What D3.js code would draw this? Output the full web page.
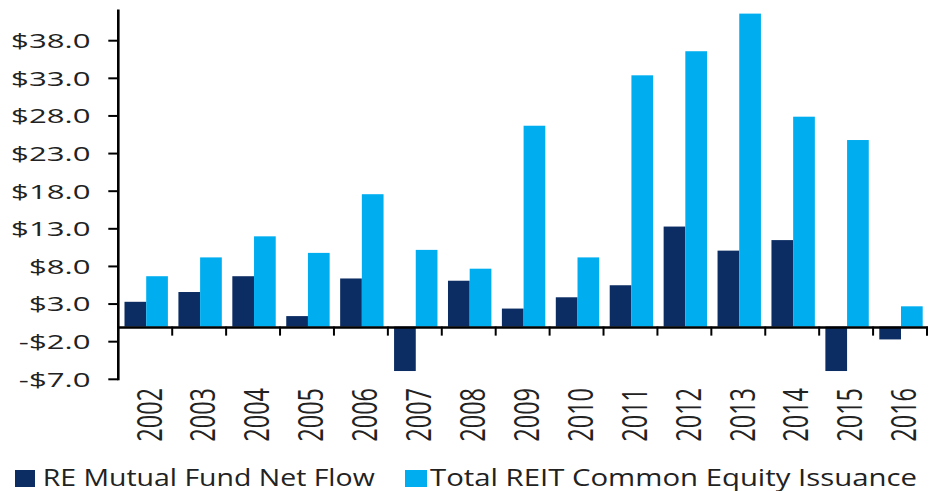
<!DOCTYPE html>
<html>
<head>
<meta charset="utf-8">
<script src="https://cdn.jsdelivr.net/npm/d3@7"></script>
<style>
  html, body { margin: 0; padding: 0; background: #fff; }
  svg { display: block; }
  text { font-family: "Open Sans", "Noto Sans", sans-serif; fill: #222; }
</style>
</head>
<body>
<svg id="chart" width="930" height="491"></svg>
<script>
// ---- data ----
const years = ["2002","2003","2004","2005","2006","2007","2008","2009","2010","2011","2012","2013","2014","2015","2016"];
const seriesNames = ["RE Mutual Fund Net Flow", "Total REIT Common Equity Issuance"];
const mutualFundNetFlow = [3.3, 4.6, 6.7, 1.4, 6.4, -5.9, 6.1, 2.4, 3.9, 5.5, 13.3, 10.1, 11.5, -5.9, -1.7];
const reitEquityIssuance = [6.7, 9.2, 12.0, 9.8, 17.6, 10.2, 7.7, 26.7, 9.2, 33.4, 36.6, 41.6, 27.9, 24.8, 2.7];
const yTickValues = [-7, -2, 3, 8, 13, 18, 23, 28, 33, 38];
const colors = ["#0c2d63", "#00aeef"];

// ---- layout ----
const svg = d3.select("#chart");
const left = 118.3, right = 927, yTopPx = 9.5;
const SX = 1.45; // horizontal stretch of the reference's text

const y = d3.scaleLinear().domain([-7, 38]).range([379.3, 40.7]);
const yMaxAxis = y.invert(yTopPx);

const x0 = d3.scaleBand().domain(years).range([left, right]).padding(0);
const bw = x0.bandwidth();
const x1 = d3.scaleBand().domain(seriesNames).range([bw * 0.115, bw * 0.92]).padding(0);

const rows = years.map((yr, i) => ({ year: yr, values: [mutualFundNetFlow[i], reitEquityIssuance[i]] }));

// bars
const g = svg.append("g");
g.selectAll("g.cat").data(rows).join("g")
  .attr("class", "cat")
  .attr("transform", d => `translate(${x0(d.year)},0)`)
  .selectAll("rect").data(d => d.values.map((v, k) => ({ v, k })))
  .join("rect")
  .attr("x", d => x1(seriesNames[d.k]))
  .attr("width", x1.bandwidth())
  .attr("y", d => y(Math.max(0, d.v)))
  .attr("height", d => Math.abs(y(d.v) - y(0)))
  .attr("fill", d => colors[d.k]);

// y axis line
svg.append("line")
  .attr("x1", left).attr("x2", left)
  .attr("y1", y(yMaxAxis)).attr("y2", y(-7) + 1)
  .attr("stroke", "#000").attr("stroke-width", 2.6);

// y ticks
svg.selectAll("line.ytick").data(yTickValues).join("line")
  .attr("class", "ytick")
  .attr("x1", left - 10).attr("x2", left)
  .attr("y1", d => y(d)).attr("y2", d => y(d))
  .attr("stroke", "#000").attr("stroke-width", 2);

const fmt = v => (v < 0 ? "-$" : "$") + Math.abs(v).toFixed(1);
svg.selectAll("text.ylab").data(yTickValues).join("text")
  .attr("class", "ylab")
  .attr("transform", d => `translate(90.5,${y(d)}) scale(1.52,1)`)
  .attr("text-anchor", "end")
  .attr("dy", "0.36em")
  .attr("font-size", 20.5)
  .text(fmt);

// x axis (at zero)
svg.append("line")
  .attr("x1", left).attr("x2", right + 1)
  .attr("y1", y(0) + 0.8).attr("y2", y(0) + 0.8)
  .attr("stroke", "#000").attr("stroke-width", 2.6);

svg.selectAll("line.xtick").data(years).join("line")
  .attr("class", "xtick")
  .attr("x1", d => x0(d) + bw).attr("x2", d => x0(d) + bw)
  .attr("y1", y(0)).attr("y2", y(0) + 9)
  .attr("stroke", "#000").attr("stroke-width", 2);

// x labels (rotated)
svg.selectAll("text.xlab").data(years).join("text")
  .attr("class", "xlab")
  .attr("transform", d => `translate(${x0(d) + bw / 2 + 4},388) scale(${SX},1) rotate(-90)`)
  .attr("text-anchor", "end")
  .attr("dy", "0.36em")
  .attr("font-size", 23.5)
  .text(d => d);

// legend
const legendItems = [
  { name: seriesNames[0], sq: 15, sqw: 20, tx: 42.7, tw: 332 },
  { name: seriesNames[1], sq: 405, sqw: 22, tx: 430, tw: 487 }
];
legendItems.forEach((it, k) => {
  svg.append("rect").attr("x", it.sq).attr("y", 470).attr("width", it.sqw).attr("height", 17)
    .attr("fill", colors[k]);
  svg.append("text").attr("x", it.tx).attr("y", 485.5)
    .attr("font-size", 23)
    .attr("textLength", it.tw).attr("lengthAdjust", "spacingAndGlyphs")
    .text(it.name);
});
</script>
</body>
</html>
